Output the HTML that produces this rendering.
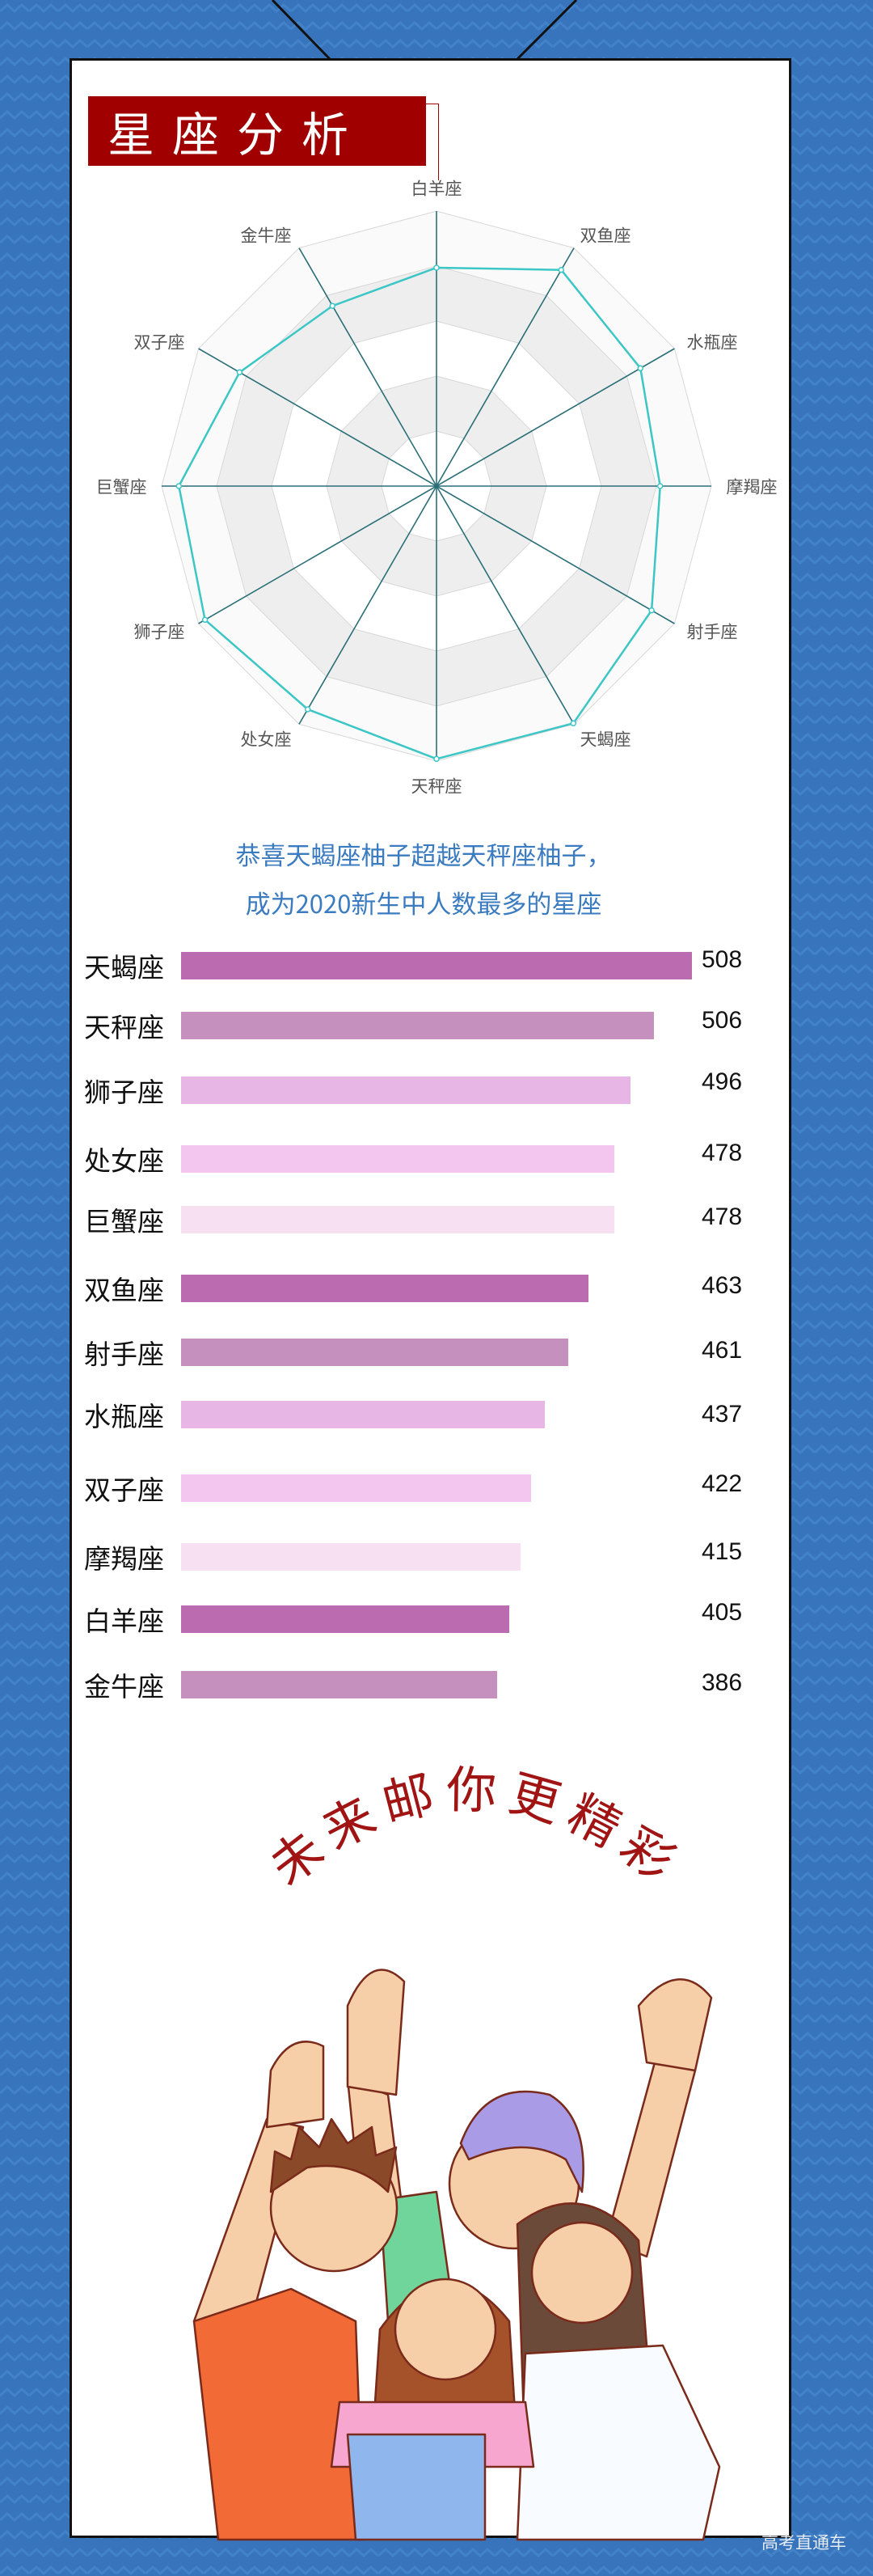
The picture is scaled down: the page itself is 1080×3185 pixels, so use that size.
<!DOCTYPE html>
<html><head><meta charset="utf-8">
<style>
html,body{margin:0;padding:0}
body{width:1080px;height:3185px;position:relative;overflow:hidden;background:#3874bb;font-family:"Liberation Sans","Noto Sans CJK SC",sans-serif}
.bg{position:absolute;left:0;top:0}
.card{position:absolute;left:86px;top:72px;width:893px;height:3066px;background:#fff;border:3px solid #111;box-sizing:border-box}
.title{position:absolute;left:109px;top:119px;width:418px;height:86px;background:#a00000;color:#fff;font-size:58px;line-height:86px;letter-spacing:22px;text-indent:24px;font-family:"Noto Sans CJK SC",sans-serif}
.tl{position:absolute;left:527px;top:128px;width:15px;height:94px;border-top:1px solid #a00000;border-right:1px solid #a00000}
.cap{position:absolute;left:0;width:1080px;text-align:center;color:#3b7bc0;font-size:31px;font-family:"Noto Sans CJK SC",sans-serif}
.lab{position:absolute;left:104px;font-size:33px;color:#111;font-family:"Noto Sans CJK SC",sans-serif;line-height:40px}
.bar{position:absolute;left:224px;height:34px}
.val{position:absolute;left:868px;font-size:30px;color:#111;line-height:36px}
.wm{position:absolute;left:942px;top:3128px;color:#e6ecf4;font-size:21px;font-family:"Noto Sans CJK SC",sans-serif}
</style></head><body>
<svg class="bg" width="1080" height="3185">
<defs><pattern id="zz" width="36" height="22" patternUnits="userSpaceOnUse">
<polyline points="0,14 9,6 18,14 27,6 36,14" fill="none" stroke="#4282c8" stroke-width="3"/></pattern></defs>
<rect width="1080" height="3185" fill="#3874bb"/>
<rect width="1080" height="3185" fill="url(#zz)"/>
<line x1="337" y1="0" x2="408" y2="73" stroke="#111" stroke-width="3"/>
<line x1="713" y1="0" x2="640" y2="73" stroke="#111" stroke-width="3"/>
</svg>
<div class="card"></div>
<div class="title">星座分析</div><div class="tl"></div>

<svg style="position:absolute;left:0;top:0" width="1080" height="1000">
<g transform="translate(540,601)">
<g stroke="#d8d8d8" stroke-width="1">
<polygon vector-effect="non-scaling-stroke" fill="#fafafa" points="0,-340 170,-294.4 294.4,-170 340,0 294.4,170 170,294.4 0,340 -170,294.4 -294.4,170 -340,0 -294.4,-170 -170,-294.4"/>
<polygon vector-effect="non-scaling-stroke" transform="scale(0.8)" fill="#eeeeee" points="0,-340 170,-294.4 294.4,-170 340,0 294.4,170 170,294.4 0,340 -170,294.4 -294.4,170 -340,0 -294.4,-170 -170,-294.4"/>
<polygon vector-effect="non-scaling-stroke" transform="scale(0.6)" fill="#ffffff" points="0,-340 170,-294.4 294.4,-170 340,0 294.4,170 170,294.4 0,340 -170,294.4 -294.4,170 -340,0 -294.4,-170 -170,-294.4"/>
<polygon vector-effect="non-scaling-stroke" transform="scale(0.4)" fill="#eeeeee" points="0,-340 170,-294.4 294.4,-170 340,0 294.4,170 170,294.4 0,340 -170,294.4 -294.4,170 -340,0 -294.4,-170 -170,-294.4"/>
<polygon vector-effect="non-scaling-stroke" transform="scale(0.2)" fill="#ffffff" points="0,-340 170,-294.4 294.4,-170 340,0 294.4,170 170,294.4 0,340 -170,294.4 -294.4,170 -340,0 -294.4,-170 -170,-294.4"/>
</g>
<g stroke="#2a6f78" stroke-width="1.6">
<line x1="0" y1="-340" x2="0" y2="340"/><line x1="170" y1="-294.4" x2="-170" y2="294.4"/>
<line x1="294.4" y1="-170" x2="-294.4" y2="170"/><line x1="340" y1="0" x2="-340" y2="0"/>
<line x1="294.4" y1="170" x2="-294.4" y2="-170"/><line x1="170" y1="294.4" x2="-170" y2="-294.4"/>
</g>
</g>
<polygon fill="none" stroke="#3cc6c6" stroke-width="2.5" points="540,331 694.3,333.7 792.3,455.3 816.7,601 806.1,754.7 709.3,894.3 540,938.3 380.7,877 253.6,766.3 221.3,601 296.4,460.3 411.3,378.2"/>
<g fill="#fff" stroke="#3cc6c6" stroke-width="1.5">
<circle cx="540" cy="331" r="3"/><circle cx="694.3" cy="333.7" r="3"/><circle cx="792.3" cy="455.3" r="3"/><circle cx="816.7" cy="601" r="3"/><circle cx="806.1" cy="754.7" r="3"/><circle cx="709.3" cy="894.3" r="3"/><circle cx="540" cy="938.3" r="3"/><circle cx="380.7" cy="877" r="3"/><circle cx="253.6" cy="766.3" r="3"/><circle cx="221.3" cy="601" r="3"/><circle cx="296.4" cy="460.3" r="3"/><circle cx="411.3" cy="378.2" r="3"/>
</g>
<g font-family="Liberation Sans,Noto Sans CJK SC,sans-serif" font-size="21" fill="#555" text-anchor="middle" dominant-baseline="central">
<text x="540" y="234">白羊座</text><text x="749" y="292">双鱼座</text><text x="881" y="424">水瓶座</text>
<text x="930" y="603">摩羯座</text><text x="881" y="782">射手座</text><text x="749" y="915">天蝎座</text>
<text x="540" y="973">天秤座</text><text x="329" y="915">处女座</text><text x="197" y="782">狮子座</text>
<text x="150" y="603">巨蟹座</text><text x="197" y="424">双子座</text><text x="329" y="292">金牛座</text>
</g>
</svg>

<div class="cap" style="top:1033px;left:-16px">恭喜天蝎座柚子超越天秤座柚子，</div>
<div class="cap" style="top:1093px;left:-16px">成为2020新生中人数最多的星座</div>

<div class="lab" style="top:1174px">天蝎座</div><div class="bar" style="top:1177px;width:632px;background:#bb6bb0"></div><div class="val" style="top:1169px">508</div>
<div class="lab" style="top:1248px">天秤座</div><div class="bar" style="top:1251px;width:585px;background:#c690be"></div><div class="val" style="top:1244px">506</div>
<div class="lab" style="top:1328px">狮子座</div><div class="bar" style="top:1331px;width:556px;background:#e8b6e4"></div><div class="val" style="top:1320px">496</div>
<div class="lab" style="top:1413px">处女座</div><div class="bar" style="top:1416px;width:536px;background:#f2c6ee"></div><div class="val" style="top:1408px">478</div>
<div class="lab" style="top:1488px">巨蟹座</div><div class="bar" style="top:1491px;width:536px;background:#f6e0f2"></div><div class="val" style="top:1487px">478</div>
<div class="lab" style="top:1573px">双鱼座</div><div class="bar" style="top:1576px;width:504px;background:#bb6bb0"></div><div class="val" style="top:1572px">463</div>
<div class="lab" style="top:1652px">射手座</div><div class="bar" style="top:1655px;width:479px;background:#c690be"></div><div class="val" style="top:1652px">461</div>
<div class="lab" style="top:1729px">水瓶座</div><div class="bar" style="top:1732px;width:450px;background:#e8b6e4"></div><div class="val" style="top:1731px">437</div>
<div class="lab" style="top:1820px">双子座</div><div class="bar" style="top:1823px;width:433px;background:#f2c6ee"></div><div class="val" style="top:1817px">422</div>
<div class="lab" style="top:1905px">摩羯座</div><div class="bar" style="top:1908px;width:420px;background:#f6e0f2"></div><div class="val" style="top:1901px">415</div>
<div class="lab" style="top:1982px">白羊座</div><div class="bar" style="top:1985px;width:406px;background:#bb6bb0"></div><div class="val" style="top:1976px">405</div>
<div class="lab" style="top:2063px">金牛座</div><div class="bar" style="top:2066px;width:391px;background:#c690be"></div><div class="val" style="top:2063px">386</div>

<svg style="position:absolute;left:0;top:2150px" width="1080" height="1000">
<defs><path id="arc" d="M300,240 Q580,-70 880,240"/></defs>
<text font-family="Noto Sans CJK SC,sans-serif" font-size="62" fill="#a01414" letter-spacing="12" text-anchor="middle"><textPath href="#arc" startOffset="50%">未来邮你更精彩</textPath></text>
<g stroke="#7a2a1a" stroke-width="2.5" stroke-linejoin="round">
<path d="M240,720 L330,470 L375,480 L300,760 Z" fill="#f6cfa8"/>
<path d="M335,410 Q360,360 400,380 L400,470 L330,480 Z" fill="#f6cfa8"/>
<path d="M430,420 L480,440 L500,600 L450,620 Z" fill="#f6cfa8"/>
<path d="M430,330 Q460,260 500,300 L490,440 L430,430 Z" fill="#f6cfa8"/>
<path d="M810,400 L860,410 L800,640 L750,620 Z" fill="#f6cfa8"/>
<path d="M790,330 Q840,270 880,320 L860,410 L800,400 Z" fill="#f6cfa8"/>
<path d="M470,570 L540,560 L560,700 L480,720 Z" fill="#6fd59a"/>
<circle cx="636" cy="550" r="80" fill="#f6cfa8"/>
<path d="M570,500 Q600,420 680,440 Q730,470 720,560 L700,520 Q650,490 580,520 Z" fill="#a99be6"/>
<path d="M240,720 L360,680 L440,720 L450,990 L270,990 Z" fill="#f26a35"/>
<circle cx="413" cy="580" r="78" fill="#f6cfa8"/>
<path d="M335,560 L340,510 L360,520 L370,480 L395,505 L410,470 L430,500 L460,480 L465,515 L490,505 L480,560 Q440,520 380,530 Z" fill="#8a4a2a"/>
<path d="M640,600 Q720,540 790,620 L810,880 L650,900 Z" fill="#6b4a3a"/>
<path d="M650,760 L820,750 L890,900 L870,990 L640,990 Z" fill="#f8fbff"/>
<circle cx="720" cy="660" r="62" fill="#f6cfa8"/>
<path d="M470,730 Q550,620 630,720 L640,880 L460,880 Z" fill="#a5522a"/>
<path d="M420,820 L650,820 L660,900 L410,900 Z" fill="#f6a6cf"/>
<path d="M430,860 L600,860 L600,990 L440,990 Z" fill="#8fb7ee"/>
<circle cx="551" cy="730" r="62" fill="#f6cfa8"/>
</g>
</svg>
<div class="wm">高考直通车</div>
</body></html>
